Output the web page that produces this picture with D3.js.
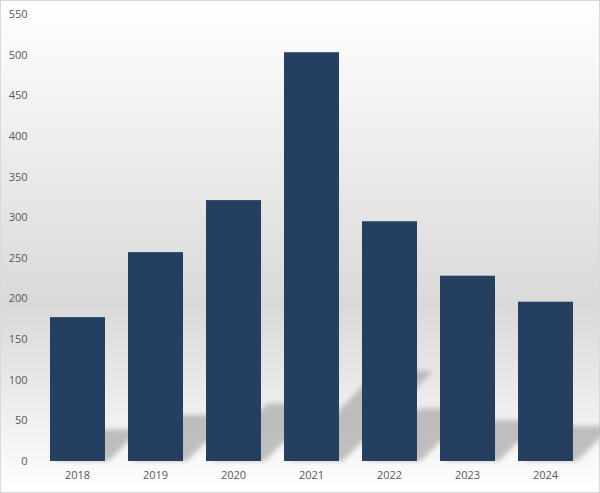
<!DOCTYPE html>
<html><head><meta charset="utf-8">
<script src="https://cdn.jsdelivr.net/npm/d3@7"></script>
<style>body{margin:0;background:#fff}svg{display:block}</style>
</head><body>
<script>
const categories = ["2018","2019","2020","2021","2022","2023","2024"];
const values = [177, 257, 321, 503, 295, 228, 196];
const yTicks = [0,50,100,150,200,250,300,350,400,450,500,550];

const W = 600, H = 493;
const m = {left: 38.5, right: 15.5, top: 14, bottom: 32};
const svg = d3.select("body").append("svg").attr("width", W).attr("height", H);
const defs = svg.append("defs");
const g1 = defs.append("linearGradient").attr("id","bg").attr("x1",0).attr("y1",0).attr("x2",0).attr("y2",1);
g1.append("stop").attr("offset","0").attr("stop-color","#ffffff");
g1.append("stop").attr("offset","0.62").attr("stop-color","#d9d9d9");
g1.append("stop").attr("offset","1").attr("stop-color","#ffffff");
const f = defs.append("filter").attr("id","blur").attr("x","-50%").attr("y","-50%").attr("width","200%").attr("height","200%");
f.append("feGaussianBlur").attr("stdDeviation",2.5);

svg.append("rect").attr("x",0.5).attr("y",0.5).attr("width",W-1).attr("height",H-1)
  .attr("fill","url(#bg)").attr("stroke","#d9d9d9");

const x = d3.scaleBand().domain(categories).range([m.left, W - m.right]).paddingInner(0.295).paddingOuter(0.1475);
const y = d3.scaleLinear().domain([0,550]).range([H - m.bottom, m.top]);
const base = y(0);

// perspective shadows
const sh = svg.append("g").attr("filter","url(#blur)");
categories.forEach((c,i)=>{
  const x0 = x(c), x1 = x(c)+x.bandwidth();
  const h = base - y(values[i]);
  const dy = h*0.22, dx = dy*1.0;
  const pts = [[x0+4, base],[x1+4, base],[x1+4+dx, base-dy],[x0+4+dx, base-dy]];
  sh.append("path").attr("d", d3.line()(pts)+"Z").attr("fill","#a6a6a6").attr("opacity",0.7);
});

svg.append("g").selectAll("rect").data(categories).join("rect")
  .attr("x", d=>x(d)).attr("width", x.bandwidth())
  .attr("y", (d,i)=>y(values[i])).attr("height", (d,i)=>base - y(values[i]))
  .attr("fill","#243f60");

const yAxis = d3.axisLeft(y).tickValues(yTicks).tickSize(0).tickPadding(0);
const ya = svg.append("g").attr("transform",`translate(${m.left-11},0)`).call(yAxis);
ya.select(".domain").remove();
ya.selectAll("text").attr("font-family","'Open Sans', sans-serif").attr("font-size",11).attr("fill","#595959");

const xAxis = d3.axisBottom(x).tickSize(0).tickPadding(10);
const xa = svg.append("g").attr("transform",`translate(0,${base})`).call(xAxis);
xa.select(".domain").remove();
xa.selectAll("text").attr("font-family","'Open Sans', sans-serif").attr("font-size",11).attr("fill","#595959");
</script>
</body></html>
